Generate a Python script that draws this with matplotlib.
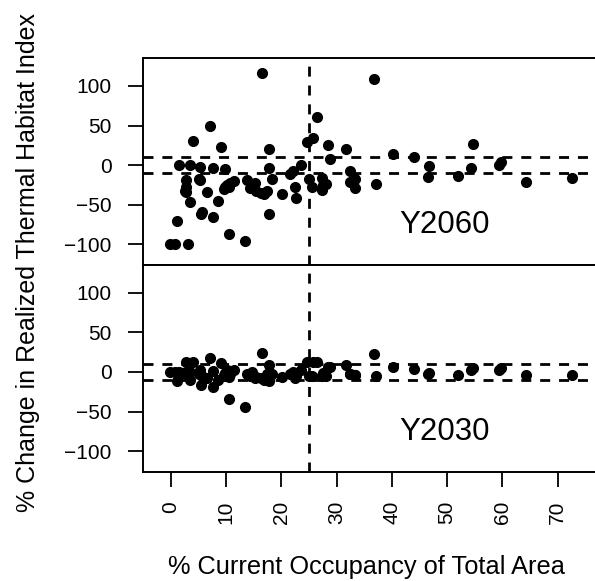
import matplotlib.pyplot as plt
import matplotlib as mpl

mpl.rcParams['font.family'] = ['Liberation Sans', 'DejaVu Sans']

# occupancy (%) for each species, shared by both panels
occupancy = [-0.1, 0.8, 1.2, 1.6, 3.1, 3.5, 2.7, 2.8, 2.8, 3.5,
             4.1, 5.3, 5.3, 5.5, 5.7, 6.5, 7.1, 7.6, 7.7, 8.6,
             9.1, 9.9, 9.9, 10.2, 10.5, 10.8, 11.5, 13.5, 13.8, 14.4,
             15.3, 15.5, 16.6, 16.8, 17.4, 17.7, 17.7, 17.7, 18.4, 20.2,
             21.5, 22.1, 22.4, 22.6, 23.5, 24.7, 25.7, 25.0, 25.6, 26.4,
             27.4, 27.6, 28.1, 27.4, 28.4, 28.8, 31.8, 32.4, 32.5, 33.4,
             33.3, 36.8, 37.1, 40.2, 44.0, 46.8, 46.6, 51.9, 54.6, 54.4,
             59.8, 59.4, 64.2, 72.5, 5.2, 9.6, 10.6, 14.8, 16.4, 2.6]

# change in realized thermal habitat index, 2060
change_2060 = [-99, -99, -70, 0, -99, 0, -19, -28, -34, -46,
               31, -2, -19, -61, -59, -34, 49, -3, -66, -45,
               23, -5, -28, -25, -87, -22, -20, -96, -19, -29,
               -23, -32, 117, -36, -32, 21, -4, -61, -17, -36,
               -11, -7, -28, -41, 0, 29, 34, -17, -27, 61,
               -16, -25, -24, -31, 26, 8, 20, -7, -21, -17,
               -29, 109, -24, 14, 10, -1, -15, -14, 27, -4,
               4, 0, -21, -16, -18, -30, -27, -27, -35, -32]

# change in realized thermal habitat index, 2030
change_2030 = [0, 0, -12, 0, 0, 0, 13, 0, -3, -10,
               13, 3, -1, -16, -5, -8, 18, 1, -19, -10,
               11, -1, -5, 3, -34, -3, 3, -44, -3, -5,
               -8, -6, 24, -10, -3, 9, -1, -12, -3, -6,
               -3, 0, -8, -5, 2, 13, 13, -5, -5, 13,
               -5, -1, -5, -5, 6, 6, 9, -3, -3, -4,
               -4, 23, -5, 6, 4, -1, -3, -4, 5, 3,
               5, 2, -4, -4, -2, -4, -6, 0, -8, -4]

panels = [('Y2060', change_2060), ('Y2030', change_2030)]

xticks = [0, 10, 20, 30, 40, 50, 60, 70]
yticks = [-100, -50, 0, 50, 100]

fig = plt.figure(figsize=(5.95, 5.81), dpi=100)
ax_top = fig.add_axes([0.2403, 0.5439, 0.79, 0.3558])
ax_bot = fig.add_axes([0.2403, 0.1881, 0.79, 0.3558])

for ax, (name, change) in zip([ax_top, ax_bot], panels):
    ax.plot(occupancy, change, 'o', color='black', ms=7, mec='black', zorder=3)
    # reference lines
    ax.axhline(10, color='black', lw=2, dashes=[3.6, 3.2])
    ax.axhline(-10, color='black', lw=2, dashes=[3.6, 3.2])
    ax.axvline(25, color='black', lw=2, dashes=[3.6, 3.2])
    ax.text(49.6, -76, name, fontsize=22.5, ha='center', va='center')

    ax.set_xlim(-5, 80)
    ax.set_ylim(-126, 135)
    ax.set_yticks(yticks)
    ax.set_xticks(xticks)
    ax.tick_params(axis='both', direction='out', length=10.5, width=1.3,
                   labelsize=15)
    ax.tick_params(axis='y', pad=12)
    for sp in ax.spines.values():
        sp.set_linewidth(1.4)

ax_top.tick_params(axis='x', bottom=False, labelbottom=False)
ax_bot.tick_params(axis='x', rotation=90, pad=10.5)

fig.text(0.047, 0.548, '% Change in Realized Thermal Habitat Index',
         rotation=90, ha='center', va='center', fontsize=18)
fig.text(0.616, 0.024, '% Current Occupancy of Total Area',
         ha='center', va='center', fontsize=18.3)

fig.savefig('out.png', dpi=100)
